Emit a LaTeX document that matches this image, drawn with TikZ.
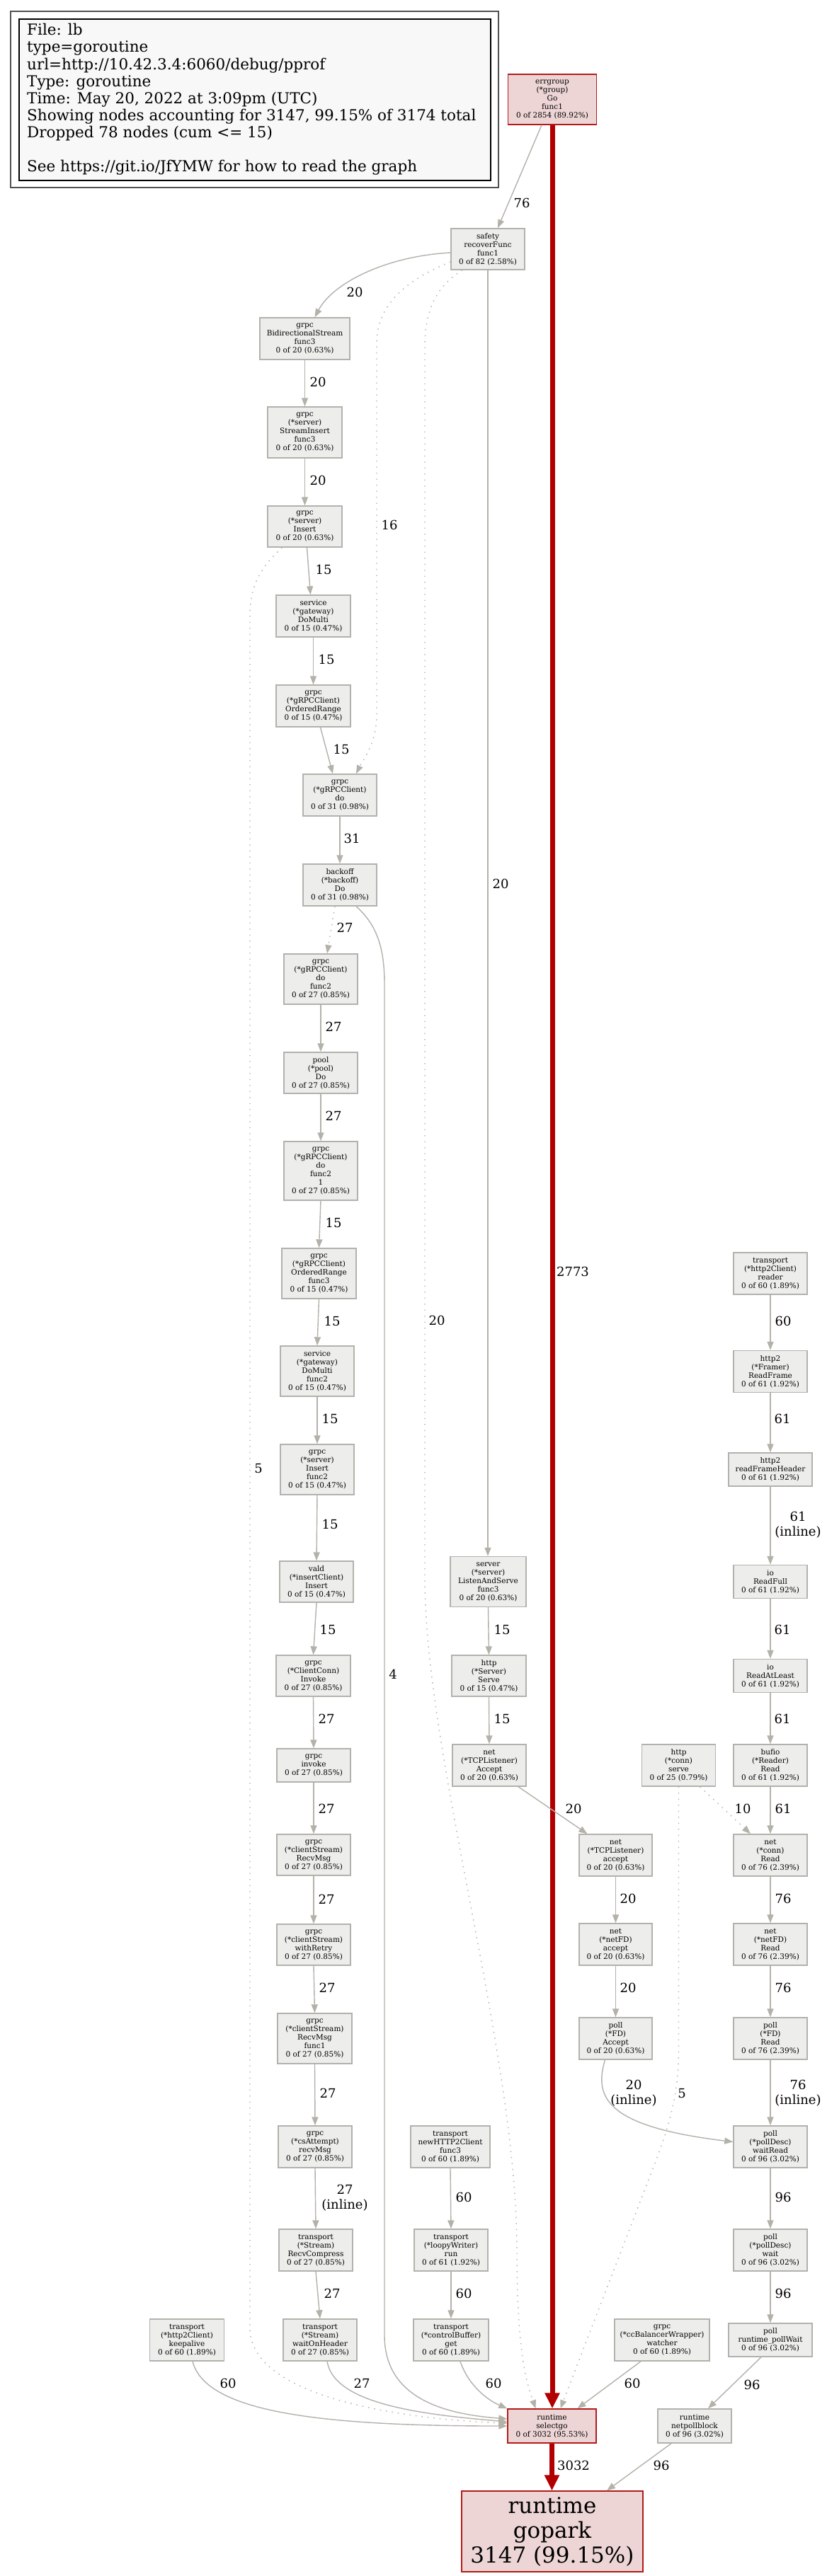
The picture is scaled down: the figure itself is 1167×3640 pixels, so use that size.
\documentclass[tikz,border=0pt]{standalone}
\usepackage{fontspec}
\setmainfont{DejaVu Serif}
\usetikzlibrary{arrows.meta}
\definecolor{nfill}{HTML}{EDEDEC}
\definecolor{nborder}{HTML}{B2B2AC}
\definecolor{rfill}{HTML}{EDD5D5}
\definecolor{rborder}{HTML}{B21B1B}
\definecolor{ecol}{HTML}{B4B1A9}
\definecolor{redge}{HTML}{B20000}
\definecolor{legfill}{HTML}{F8F8F8}
\definecolor{legout}{HTML}{505050}
\newcommand\mynodefont{\fontsize{10.5}{12}\selectfont}
\newcommand\mylabelfont{\fontsize{18}{21}\selectfont}
\newcommand\mylegfont{\fontsize{21.5}{24}\selectfont}
\newcommand\mybigfont{\fontsize{31}{35}\selectfont}
\tikzset{
  gn/.style={draw=nborder, fill=nfill, line width=1.4pt, align=center, inner sep=0pt, font=\mynodefont},
  rn/.style={gn, draw=rborder, fill=rfill},
  ed/.style={draw=ecol, line width=1.4pt, -{Triangle[length=12pt,width=9pt]}},
  dt/.style={ed, dash pattern=on 1.5pt off 7pt},
  hot/.style={draw=redge, line width=7pt, -{Triangle[length=22pt,width=20pt]}},
  lbl/.style={font=\mylabelfont, inner sep=0pt, align=center},
  legtxt/.style={font=\mylegfont, inner sep=0pt, anchor=base west}
}
\begin{document}
\begin{tikzpicture}[x=1pt,y=-1pt]
\fill[white] (0,0) rectangle (1167,3640);
\useasboundingbox (0,0) rectangle (1167,3640);

% legend
\node[draw=legout, line width=2pt, fill=white, minimum width=689pt, minimum height=249pt, inner sep=0pt] (legout) at (359.5,140.5) {};
\node[draw=black, line width=1.4pt, fill=legfill, minimum width=666pt, minimum height=228pt, inner sep=0pt] (legin) at (360,141) {};
\node[legtxt] (leg1) at (38,50) {File: lb};
\node[legtxt] (leg2) at (38,74) {type=goroutine};
\node[legtxt] (leg3) at (38,98) {url=http://10.42.3.4:6060/debug/pprof};
\node[legtxt] (leg4) at (38,122) {Type: goroutine};
\node[legtxt] (leg5) at (38,146) {Time: May 20, 2022 at 3:09pm (UTC)};
\node[legtxt] (leg6) at (38,170) {Showing nodes accounting for 3147, 99.15\% of 3174 total};
\node[legtxt] (leg7) at (38,194) {Dropped 78 nodes (cum <= 15)};
\node[legtxt] (leg8) at (38,242) {See https://git.io/JfYMW for how to read the graph};

% nodes
\node[rn, minimum width=125pt, minimum height=71pt] (errgroup) at (780,140.5) {errgroup\\(*group)\\Go\\func1\\0 of 2854 (89.92\%)};
\node[gn, minimum width=104pt, minimum height=58pt] (safety) at (689,352) {safety\\recoverFunc\\func1\\0 of 82 (2.58\%)};
\node[gn, minimum width=127pt, minimum height=59pt] (bidi) at (430.5,478.5) {grpc\\BidirectionalStream\\func3\\0 of 20 (0.63\%)};
\node[gn, minimum width=105pt, minimum height=72pt] (sins) at (430.5,611) {grpc\\(*server)\\StreamInsert\\func3\\0 of 20 (0.63\%)};
\node[gn, minimum width=105pt, minimum height=58pt] (ins) at (430.5,744) {grpc\\(*server)\\Insert\\0 of 20 (0.63\%)};
\node[gn, minimum width=105pt, minimum height=59pt] (domulti) at (442.5,870.5) {service\\(*gateway)\\DoMulti\\0 of 15 (0.47\%)};
\node[gn, minimum width=105pt, minimum height=59pt] (orng) at (442.5,997.5) {grpc\\(*gRPCClient)\\OrderedRange\\0 of 15 (0.47\%)};
\node[gn, minimum width=104pt, minimum height=59pt] (cdo) at (480,1123.5) {grpc\\(*gRPCClient)\\do\\0 of 31 (0.98\%)};
\node[gn, minimum width=104pt, minimum height=59pt] (boff) at (480,1250.5) {backoff\\(*backoff)\\Do\\0 of 31 (0.98\%)};
\node[gn, minimum width=104pt, minimum height=71pt] (dof2) at (453,1383.5) {grpc\\(*gRPCClient)\\do\\func2\\0 of 27 (0.85\%)};
\node[gn, minimum width=104pt, minimum height=58pt] (pool) at (453,1516) {pool\\(*pool)\\Do\\0 of 27 (0.85\%)};
\node[gn, minimum width=104pt, minimum height=83pt] (dof21) at (453,1654.5) {grpc\\(*gRPCClient)\\do\\func2\\1\\0 of 27 (0.85\%)};
\node[gn, minimum width=105pt, minimum height=71pt] (orf3) at (450.5,1799.5) {grpc\\(*gRPCClient)\\OrderedRange\\func3\\0 of 15 (0.47\%)};
\node[gn, minimum width=104pt, minimum height=71pt] (dmf2) at (448,1937.5) {service\\(*gateway)\\DoMulti\\func2\\0 of 15 (0.47\%)};
\node[gn, minimum width=104pt, minimum height=71pt] (insf2) at (448,2076.5) {grpc\\(*server)\\Insert\\func2\\0 of 15 (0.47\%)};
\node[gn, minimum width=104pt, minimum height=58pt] (vald) at (447,2235) {vald\\(*insertClient)\\Insert\\0 of 15 (0.47\%)};
\node[gn, minimum width=105pt, minimum height=58pt] (ccinv) at (442.5,2368) {grpc\\(*ClientConn)\\Invoke\\0 of 27 (0.85\%)};
\node[gn, minimum width=104pt, minimum height=47pt] (inv) at (443,2494.5) {grpc\\invoke\\0 of 27 (0.85\%)};
\node[gn, minimum width=104pt, minimum height=58pt] (rmsg) at (443,2621) {grpc\\(*clientStream)\\RecvMsg\\0 of 27 (0.85\%)};
\node[gn, minimum width=104pt, minimum height=58pt] (wretry) at (443,2748) {grpc\\(*clientStream)\\withRetry\\0 of 27 (0.85\%)};
\node[gn, minimum width=105pt, minimum height=71pt] (rmsgf1) at (444.5,2880.5) {grpc\\(*clientStream)\\RecvMsg\\func1\\0 of 27 (0.85\%)};
\node[gn, minimum width=104pt, minimum height=59pt] (csatt) at (445,3033.5) {grpc\\(*csAttempt)\\recvMsg\\0 of 27 (0.85\%)};
\node[gn, minimum width=104pt, minimum height=59pt] (rcomp) at (446,3179.5) {transport\\(*Stream)\\RecvCompress\\0 of 27 (0.85\%)};
\node[gn, minimum width=104pt, minimum height=59pt] (woh) at (452,3306.5) {transport\\(*Stream)\\waitOnHeader\\0 of 27 (0.85\%)};
\node[gn, minimum width=105pt, minimum height=59pt] (kalive) at (264,3306.5) {transport\\(*http2Client)\\keepalive\\0 of 60 (1.89\%)};
\node[gn, minimum width=112pt, minimum height=59pt] (nh2c) at (636,3033.5) {transport\\newHTTP2Client\\func3\\0 of 60 (1.89\%)};
\node[gn, minimum width=104pt, minimum height=59pt] (loopy) at (637,3179.5) {transport\\(*loopyWriter)\\run\\0 of 61 (1.92\%)};
\node[gn, minimum width=106pt, minimum height=59pt] (cbget) at (637,3306.5) {transport\\(*controlBuffer)\\get\\0 of 60 (1.89\%)};
\node[gn, minimum width=134pt, minimum height=59pt] (ccbw) at (935,3306.5) {grpc\\(*ccBalancerWrapper)\\watcher\\0 of 60 (1.89\%)};
\node[rn, minimum width=125pt, minimum height=48pt] (selgo) at (779.5,3428) {runtime\\selectgo\\0 of 3032 (95.53\%)};
\node[rn, minimum width=256pt, minimum height=114pt, font=\mybigfont] (gopark) at (780,3577) {runtime\\gopark\\3147 (99.15\%)};
\node[gn, minimum width=104pt, minimum height=48pt] (npb) at (981,3428) {runtime\\netpollblock\\0 of 96 (3.02\%)};
\node[gn, minimum width=107pt, minimum height=71pt] (las) at (689.5,2235) {server\\(*server)\\ListenAndServe\\func3\\0 of 20 (0.63\%)};
\node[gn, minimum width=105pt, minimum height=58pt] (hserve) at (690.5,2368) {http\\(*Server)\\Serve\\0 of 15 (0.47\%)};
\node[gn, minimum width=104pt, minimum height=59pt] (tcpA) at (691,2494.5) {net\\(*TCPListener)\\Accept\\0 of 20 (0.63\%)};
\node[gn, minimum width=103pt, minimum height=59pt] (tcpa) at (869.5,2621.5) {net\\(*TCPListener)\\accept\\0 of 20 (0.63\%)};
\node[gn, minimum width=103pt, minimum height=59pt] (nfda) at (869.5,2747.5) {net\\(*netFD)\\accept\\0 of 20 (0.63\%)};
\node[gn, minimum width=103pt, minimum height=59pt] (fdA) at (869.5,2880.5) {poll\\(*FD)\\Accept\\0 of 20 (0.63\%)};
\node[gn, minimum width=104pt, minimum height=59pt] (wread) at (1088,3033.5) {poll\\(*pollDesc)\\waitRead\\0 of 96 (3.02\%)};
\node[gn, minimum width=104pt, minimum height=59pt] (pwait) at (1088,3179.5) {poll\\(*pollDesc)\\wait\\0 of 96 (3.02\%)};
\node[gn, minimum width=118pt, minimum height=47pt] (rpw) at (1088,3306.5) {poll\\runtime\_pollWait\\0 of 96 (3.02\%)};
\node[gn, minimum width=104pt, minimum height=59pt] (h2r) at (1088,1799.5) {transport\\(*http2Client)\\reader\\0 of 60 (1.89\%)};
\node[gn, minimum width=104pt, minimum height=59pt] (rframe) at (1088,1938) {http2\\(*Framer)\\ReadFrame\\0 of 61 (1.92\%)};
\node[gn, minimum width=118pt, minimum height=47pt] (rfh) at (1088,2076.5) {http2\\readFrameHeader\\0 of 61 (1.92\%)};
\node[gn, minimum width=104pt, minimum height=47pt] (rfull) at (1088,2235) {io\\ReadFull\\0 of 61 (1.92\%)};
\node[gn, minimum width=104pt, minimum height=47pt] (ral) at (1088,2368) {io\\ReadAtLeast\\0 of 61 (1.92\%)};
\node[gn, minimum width=104pt, minimum height=59pt] (bread) at (1088,2494.5) {bufio\\(*Reader)\\Read\\0 of 61 (1.92\%)};
\node[gn, minimum width=104pt, minimum height=59pt] (cserve) at (958.5,2494.5) {http\\(*conn)\\serve\\0 of 25 (0.79\%)};
\node[gn, minimum width=104pt, minimum height=59pt] (cread) at (1088,2621.5) {net\\(*conn)\\Read\\0 of 76 (2.39\%)};
\node[gn, minimum width=104pt, minimum height=59pt] (nfdr) at (1088,2747.5) {net\\(*netFD)\\Read\\0 of 76 (2.39\%)};
\node[gn, minimum width=104pt, minimum height=59pt] (fdr) at (1088,2880.5) {poll\\(*FD)\\Read\\0 of 76 (2.39\%)};

% edges
\draw[ed] ([xshift=-15pt]errgroup.south) -- ([xshift=14pt]safety.north);
\draw[hot] (errgroup.south) -- (errgroup.south |- selgo.north);
\draw[ed] ([yshift=-5pt]safety.west) .. controls (545,362) and (470,400) .. ([xshift=14pt]bidi.north);
\draw[dt] ([yshift=-18pt]safety.west) .. controls (575,395) and (532,430) .. (532,485) -- (532,1010) .. controls (532,1050) and (512,1075) .. ([xshift=23pt]cdo.north);
\draw[dt] ([xshift=-36pt]safety.south) .. controls (615,405) and (600,440) .. (600,490) -- (600,2230) .. controls (600,2480) and (730,2900) .. (730,3180) .. controls (730,3330) and (745,3370) .. ([xshift=-23pt]selgo.north);
\draw[ed] (safety.south) -- (safety.south |- las.north);
\draw[ed] (bidi.south) -- (sins.north);
\draw[ed] (sins.south) -- (ins.north);
\draw[ed] ([xshift=3pt]ins.south) -- ([xshift=-4pt]domulti.north);
\draw[dt] ([xshift=-32pt]ins.south) .. controls (370,800) and (353,825) .. (353,870) -- (353,3290) .. controls (353,3385) and (560,3418) .. ([yshift=4pt]selgo.west);
\draw[ed] (domulti.south) -- (orng.north);
\draw[ed] ([xshift=10pt]orng.south) -- ([xshift=-10pt]cdo.north);
\draw[ed] (cdo.south) -- (boff.north);
\draw[dt] ([xshift=-7pt]boff.south) -- ([xshift=9pt]dof2.north);
\draw[ed] ([xshift=23pt]boff.south) .. controls (530,1305) and (543,1335) .. (543,1390) -- (543,3300) .. controls (543,3395) and (640,3412) .. ([yshift=10pt]selgo.west);
\draw[ed] (dof2.south) -- (pool.north);
\draw[ed] (pool.south) -- (dof21.north);
\draw[ed] (dof21.south) -- (orf3.north);
\draw[ed] (orf3.south) -- (dmf2.north);
\draw[ed] (dmf2.south) -- (insf2.north);
\draw[ed] (insf2.south) -- (vald.north);
\draw[ed] (vald.south) -- (ccinv.north);
\draw[ed] (ccinv.south) -- (inv.north);
\draw[ed] (inv.south) -- (rmsg.north);
\draw[ed] (rmsg.south) -- (wretry.north);
\draw[ed] (wretry.south) -- (rmsgf1.north);
\draw[ed] (rmsgf1.south) -- (csatt.north);
\draw[ed] (csatt.south) -- (rcomp.north);
\draw[ed] (rcomp.south) -- (woh.north);
\draw[ed] ([xshift=10pt]woh.south) .. controls (472,3398) and (600,3412) .. ([yshift=6pt]selgo.west);
\draw[ed] ([xshift=8pt]kalive.south) .. controls (290,3408) and (450,3428) .. (selgo.west);
\draw[ed] (nh2c.south) -- (loopy.north);
\draw[ed] (loopy.south) -- (cbget.north);
\draw[ed] ([xshift=13pt]cbget.south) .. controls (662,3372) and (690,3392) .. (selgo.north west);
\draw[ed] ([xshift=-30pt]ccbw.south) -- ([xshift=36pt]selgo.north);
\draw[ed] (las.south) -- (hserve.north);
\draw[ed] (hserve.south) -- (tcpA.north);
\draw[ed] ([xshift=41pt]tcpA.south) -- ([xshift=-40pt]tcpa.north);
\draw[ed] (tcpa.south) -- (nfda.north);
\draw[ed] (nfda.south) -- (fdA.north);
\draw[ed] ([xshift=-15pt]fdA.south) .. controls (838,2965) and (858,3005) .. ([yshift=7pt]wread.west);
\draw[ed] (h2r.south) -- (rframe.north);
\draw[ed] (rframe.south) -- (rfh.north);
\draw[ed] (rfh.south) -- (rfull.north);
\draw[ed] (rfull.south) -- (ral.north);
\draw[ed] (ral.south) -- (bread.north);
\draw[ed] (bread.south) -- (cread.north);
\draw[dt] ([xshift=30pt]cserve.south) -- ([xshift=-28pt]cread.north);
\draw[dt] (cserve.south) -- (958.5,2900) .. controls (958.5,2975) and (935,3030) .. (918,3075) -- ([xshift=12pt]selgo.north);
\draw[ed] (cread.south) -- (nfdr.north);
\draw[ed] (nfdr.south) -- (fdr.north);
\draw[ed] (fdr.south) -- (wread.north);
\draw[ed] (wread.south) -- (pwait.north);
\draw[ed] (pwait.south) -- (rpw.north);
\draw[ed] ([xshift=-13pt]rpw.south) -- ([xshift=19pt]npb.north);
\draw[ed] ([xshift=-33pt]npb.south) -- ([xshift=77pt]gopark.north);
\draw[hot] (selgo.south) -- (selgo.south |- gopark.north);

% edge labels
\node[lbl] (lb1) at (737,287) {76};
\node[lbl] (lb2) at (809,1797) {2773};
\node[lbl] (lb3) at (501,413) {20};
\node[lbl] (lb4) at (550,742) {16};
\node[lbl] (lb5) at (617,1866) {20};
\node[lbl] (lb6) at (707,1249) {20};
\node[lbl] (lb7) at (449,540) {20};
\node[lbl] (lb8) at (449,679) {20};
\node[lbl] (lb9) at (457,805) {15};
\node[lbl] (lb10) at (365,2075) {5};
\node[lbl] (lb11) at (461,932) {15};
\node[lbl] (lb12) at (482,1059) {15};
\node[lbl] (lb13) at (497,1185) {31};
\node[lbl] (lb14) at (487,1311) {27};
\node[lbl] (lb15) at (555,2366) {4};
\node[lbl] (lb16) at (471,1451) {27};
\node[lbl] (lb17) at (471,1577) {27};
\node[lbl] (lb18) at (471,1728) {15};
\node[lbl] (lb19) at (469,1867) {15};
\node[lbl] (lb20) at (466,2005) {15};
\node[lbl] (lb21) at (466,2154) {15};
\node[lbl] (lb22) at (463,2303) {15};
\node[lbl] (lb23) at (461,2429) {27};
\node[lbl] (lb24) at (461,2556) {27};
\node[lbl] (lb25) at (461,2684) {27};
\node[lbl] (lb26) at (462,2809) {27};
\node[lbl] (lb27) at (463,2958) {27};
\node[lbl] (lb28) at (487,3106) {27\\(inline)};
\node[lbl] (lb29) at (469,3241) {27};
\node[lbl] (lb30) at (511,3368) {27};
\node[lbl] (lb31) at (322,3368) {60};
\node[lbl] (lb32) at (655,3105) {60};
\node[lbl] (lb33) at (655,3241) {60};
\node[lbl] (lb34) at (697,3368) {60};
\node[lbl] (lb35) at (893,3368) {60};
\node[lbl] (lb36) at (709,2303) {15};
\node[lbl] (lb37) at (709,2429) {15};
\node[lbl] (lb38) at (810,2556) {20};
\node[lbl] (lb39) at (887,2683) {20};
\node[lbl] (lb40) at (887,2809) {20};
\node[lbl] (lb41) at (895,2958) {20\\(inline)};
\node[lbl] (lb42) at (1106,1867) {60};
\node[lbl] (lb43) at (1105,2005) {61};
\node[lbl] (lb44) at (1127,2155) {61\\(inline)};
\node[lbl] (lb45) at (1105,2303) {61};
\node[lbl] (lb46) at (1105,2429) {61};
\node[lbl] (lb47) at (1106,2556) {61};
\node[lbl] (lb48) at (1049,2556) {10};
\node[lbl] (lb49) at (963,2958) {5};
\node[lbl] (lb50) at (1106,2683) {76};
\node[lbl] (lb51) at (1106,2809) {76};
\node[lbl] (lb52) at (1127,2958) {76\\(inline)};
\node[lbl] (lb53) at (1106,3105) {96};
\node[lbl] (lb54) at (1106,3241) {96};
\node[lbl] (lb55) at (1062,3370) {96};
\node[lbl] (lb56) at (934,3484) {96};
\node[lbl] (lb57) at (810,3484) {3032};
\end{tikzpicture}
\end{document}
